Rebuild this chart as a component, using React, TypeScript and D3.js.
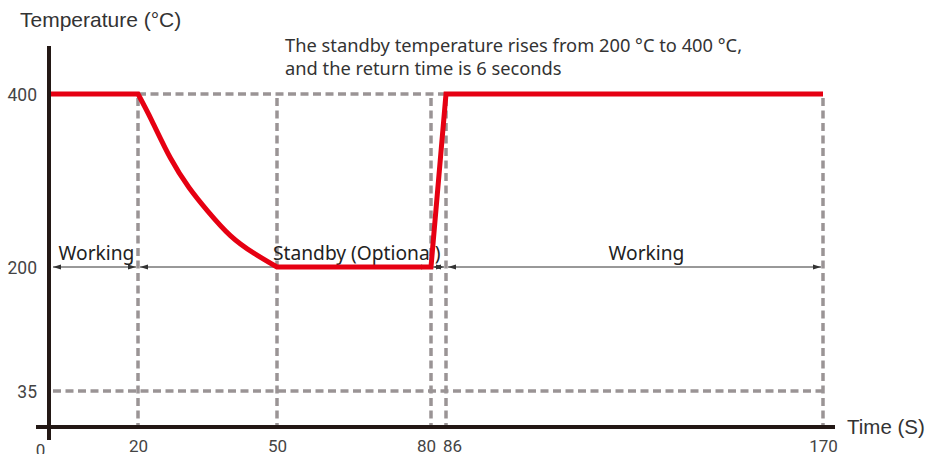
import * as d3 from 'd3'
import React, { useEffect, useRef } from 'react'

// chart values
const timeStops = [0, 20, 50, 80, 86, 170]
const tempStops = [0, 35, 200, 400]
const xTickLabels = ['0', '20', '50', '80', '86', '170']
const yTicks = [35, 200, 400]

// red profile: working, decay to standby, standby, fast return, working
const flatBefore: [number, number][] = [[0, 400], [20, 400]]
const decayTime = [20, 23, 27, 31, 35, 40, 45, 50]
const decayTemp = [400, 369, 326, 292, 265, 236, 216, 200]
const flatAfter: [number, number][] = [[50, 200], [80, 200], [86, 400], [170, 400]]

// dashed guides
const guideTimes = [20, 50, 80, 86, 170]

// phases shown with arrows at 200 °C
const phases = [
  { from: 0, to: 20, label: 'Working' },
  { from: 20, to: 80, label: 'Standby (Optional)' },
  { from: 80, to: 86, label: '' },
  { from: 86, to: 170, label: 'Working' },
]

const W = 928
const H = 454

export default function App() {
  const xAxisRef = useRef<SVGGElement>(null)
  const yAxisRef = useRef<SVGGElement>(null)

  // the drawing's time axis is not evenly spaced, so the scale is piecewise
  const x = d3.scaleLinear().domain(timeStops).range([49, 138, 277, 431, 446, 823])
  const y = d3.scaleLinear().domain(tempStops).range([427, 391, 267, 94])

  const lin = d3.line<[number, number]>().x((d) => x(d[0])).y((d) => y(d[1]))
  const curve = d3
    .line<number>()
    .x((d) => x(d))
    .y((d, i) => y(decayTemp[i]))
    .curve(d3.curveNatural)

  const redPath = lin(flatBefore) + curve(decayTime)!.replace(/^M/, 'L') + lin(flatAfter)!.replace(/^M/, 'L')

  useEffect(() => {
    const xa = d3
      .axisBottom(x)
      .tickValues(timeStops)
      .tickSize(0)
      .tickPadding(0)
      .tickFormat((d, i) => xTickLabels[i])
    const gx = d3.select(xAxisRef.current!).call(xa as any)
    gx.select('.domain').remove()
    gx.selectAll('text')
      .attr('dy', 0)
      .attr('font-family', 'Roboto, Arial, sans-serif')
      .attr('font-size', 17)
      .attr('fill', '#444')
      .attr('dx', (d: any) => (d === 80 ? -5 : d === 86 ? 6 : d === 0 ? -9 : 0))
      .attr('y', (d: any) => (d === 0 ? 29 : 25))

    const ya = d3.axisLeft(y).tickValues(yTicks).tickSize(0).tickPadding(11)
    const gy = d3.select(yAxisRef.current!).call(ya as any)
    gy.select('.domain').remove()
    gy.selectAll('text')
      .attr('dy', '0.36em')
      .attr('font-family', 'Roboto, Arial, sans-serif')
      .attr('font-size', 17.5)
      .attr('fill', '#444')
  }, [])

  const grey = '#9a9495'
  const dash = '8 4.5'

  // label placement as drawn: the standby label sits right of its span's middle
  const labelX = (p: (typeof phases)[number]) => {
    if (p.from === 20) return x(50) - 4
    const mid = (x(p.from) + x(p.to)) / 2
    return p.from === 0 ? mid + 3 : mid + 12
  }

  return (
    <svg width={W} height={H} style={{ position: 'absolute', left: 0, top: 0, background: '#fff' }}>
      <defs>
        <marker id="arrEnd" viewBox="0 0 8 6" refX="8" refY="3" markerWidth="8" markerHeight="6" markerUnits="userSpaceOnUse" orient="auto">
          <path d="M0,0.6L8,3L0,5.4Z" fill="#333" />
        </marker>
        <marker id="arrStart" viewBox="0 0 8 6" refX="0" refY="3" markerWidth="8" markerHeight="6" markerUnits="userSpaceOnUse" orient="auto">
          <path d="M8,0.6L0,3L8,5.4Z" fill="#333" />
        </marker>
      </defs>

      {/* dashed guides */}
      <g stroke={grey} strokeWidth={3.5} strokeDasharray={dash} fill="none">
        <line x1={x(20)} x2={x(170)} y1={y(400)} y2={y(400)} />
        <line x1={x(0) + 4} x2={x(170)} y1={y(35)} y2={y(35)} />
        {guideTimes.map((t) => (
          <line key={t} x1={x(t)} x2={x(t)} y1={y(400) + 4} y2={y(0)} />
        ))}
      </g>

      {/* phase arrows */}
      <g stroke="#333" strokeWidth={1}>
        {phases.map((p, i) => (
          <line
            key={i}
            x1={x(p.from) + (i === 0 ? 4 : 2)}
            x2={x(p.to) - 2}
            y1={y(200)}
            y2={y(200)}
            markerStart="url(#arrStart)"
            markerEnd="url(#arrEnd)"
          />
        ))}
      </g>
      <g fontFamily="'Noto Sans', 'Open Sans', sans-serif" fontSize={19.2} fill="#222">
        {phases
          .filter((p) => p.label)
          .map((p, i) => (
            <text key={i} x={labelX(p)} y={y(200) - 7} textAnchor={p.from === 20 ? 'start' : 'middle'}>
              {p.label}
            </text>
          ))}
      </g>

      {/* temperature profile */}
      <path d={redPath} fill="none" stroke="#e60012" strokeWidth={5} strokeLinejoin="miter" />

      {/* axes */}
      <line x1={x(0)} x2={x(0)} y1={46} y2={440} stroke="#231815" strokeWidth={4} />
      <line x1={36} x2={835} y1={y(0)} y2={y(0)} stroke="#231815" strokeWidth={4} />
      <g ref={xAxisRef} transform={`translate(0,${y(0)})`} />
      <g ref={yAxisRef} transform={`translate(${x(0) - 1},0)`} />

      <text x={20} y={27} fontFamily="'Liberation Sans', Arial, sans-serif" fontSize={21} fill="#333">
        Temperature (°C)
      </text>
      <text x={847} y={434} fontFamily="'Liberation Sans', Arial, sans-serif" fontSize={20.5} fill="#333">
        Time (S)
      </text>
      <g fontFamily="'Noto Sans', 'Open Sans', sans-serif" fontSize={18.3} fill="#333">
        <text x={285} y={52}>The standby temperature rises from 200 °C to 400 °C,</text>
        <text x={285} y={75}>and the return time is 6 seconds</text>
      </g>
    </svg>
  )
}
